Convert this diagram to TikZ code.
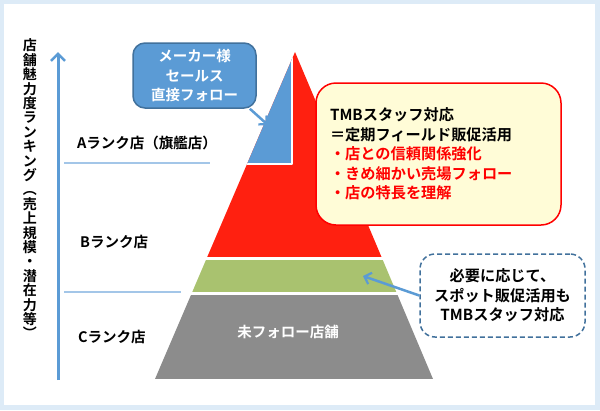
\documentclass[tikz,border=0pt]{standalone}
\usepackage{fontspec}
\setmainfont{Noto Sans CJK JP}[BoldFont={Noto Sans CJK JP Bold}]
\usetikzlibrary{arrows.meta,positioning}
\definecolor{pyBack}{HTML}{DDEBF7}
\definecolor{pyBlue}{HTML}{5B9BD5}
\definecolor{pyDeep}{HTML}{41719C}
\definecolor{pyRed}{HTML}{FF2010}
\definecolor{pyGreen}{HTML}{A9C26F}
\definecolor{pyGray}{HTML}{8C8C8C}
\definecolor{pyCream}{HTML}{FFFCD7}
\definecolor{pyRule}{HTML}{A3C6E8}
\tikzset{
 pyr/.style={font=\fontsize{14.5}{19.5}\selectfont\bfseries,line join=round},
 big/.style={font=\fontsize{15.2}{19.5}\selectfont\bfseries},
 rank/.style={anchor=west,inner sep=0pt},
 rule/.style={draw=pyRule,line width=2pt},
 axis/.style={draw=pyBlue,line width=3pt,-{Straight Barb[length=7pt,width=14pt,line width=2.6pt]}},
 pointer/.style={draw=pyBlue,line width=2.5pt,-{Straight Barb[length=6pt,width=12pt,line width=2.2pt]}},
 makerbox/.style={rectangle,rounded corners=12pt,fill=pyBlue,draw=pyDeep,line width=1.5pt,
   text=white,align=center,inner sep=0pt,minimum width=123pt,minimum height=65pt},
 tmbbox/.style={big,rectangle,rounded corners=20pt,fill=pyCream,draw=red,line width=1.5pt,
   align=left,text width=217pt,inner sep=0pt,minimum width=245pt,minimum height=142pt},
 spotbox/.style={big,rectangle,rounded corners=15pt,fill=white,draw=pyDeep,line width=1.5pt,
   dash pattern=on 5pt off 3pt,align=center,inner sep=0pt,minimum width=165pt,minimum height=83pt},
 vlabel/.style={font=\fontsize{14}{14.4}\selectfont\bfseries,align=center,inner sep=0pt}
}

\begin{document}
\begin{tikzpicture}[pyr,x=1pt,y=-1pt]
 \fill[pyBack] (0,0) rectangle (600,410);
 \fill[white] (4,4) rectangle (595,405);
 \coordinate (apex) at (295,52); \coordinate (baseL) at (155,379);
 \coordinate (baseR) at (433,379);
 \begin{scope}
  \clip (apex) -- (baseL) -- (baseR) -- cycle;
  \fill[pyRed] (150,40) rectangle (440,257);
  \fill[pyGreen] (150,260) rectangle (440,292);
  \fill[pyGray] (150,295) rectangle (440,379);
  \filldraw[fill=pyBlue,draw=white,line width=2.5pt] (150,40) rectangle (292,164);
 \end{scope}
 \node[text=white,inner sep=0pt] (unfollowed) at (288,332) {未フォロー店舗};
 \coordinate (axisFoot) at (58,380); \coordinate (axisHead) at (58,52);
 \draw[axis] (axisFoot) -- (axisHead);
 \node[vlabel] (axislabel) at (30,189) {店\\舗\\魅\\力\\度\\ラ\\ン\\キ\\ン\\グ\\︵\\売\\上\\規\\模\\・\\潜\\在\\力\\等\\︶};
 \draw[rule] (64,163) -- (210,163);
 \draw[rule] (64,292) -- (181,292);
 \node[rank] (rankA) at (77,143) {Aランク店（旗艦店）};
 \node[rank] (rankB) at (80,242) {Bランク店};
 \node[rank] (rankC) at (78,337) {Cランク店};
 \node[makerbox] (maker) at (194.5,75.5) {メーカー様\\セールス\\直接フォロー};
 \coordinate (aTip) at (268,125);
 \draw[pointer] (maker.-31) -- (aTip);
 \node[tmbbox] (tmb) at (438.5,154) {TMBスタッフ対応\\＝定期フィールド販促活用\\
   \textcolor{red}{・店との信頼関係強化}\\\textcolor{red}{・きめ細かい売場フォロー}\\
   \textcolor{red}{・店の特長を理解}};
 \node[spotbox] (spot) at (502.5,295.5) {必要に応じて、\\スポット販促活用も\\TMBスタッフ対応};
 \coordinate (bTip) at (363,276);
 \draw[pointer] (spot.west) -- (bTip);
\end{tikzpicture}
\end{document}
